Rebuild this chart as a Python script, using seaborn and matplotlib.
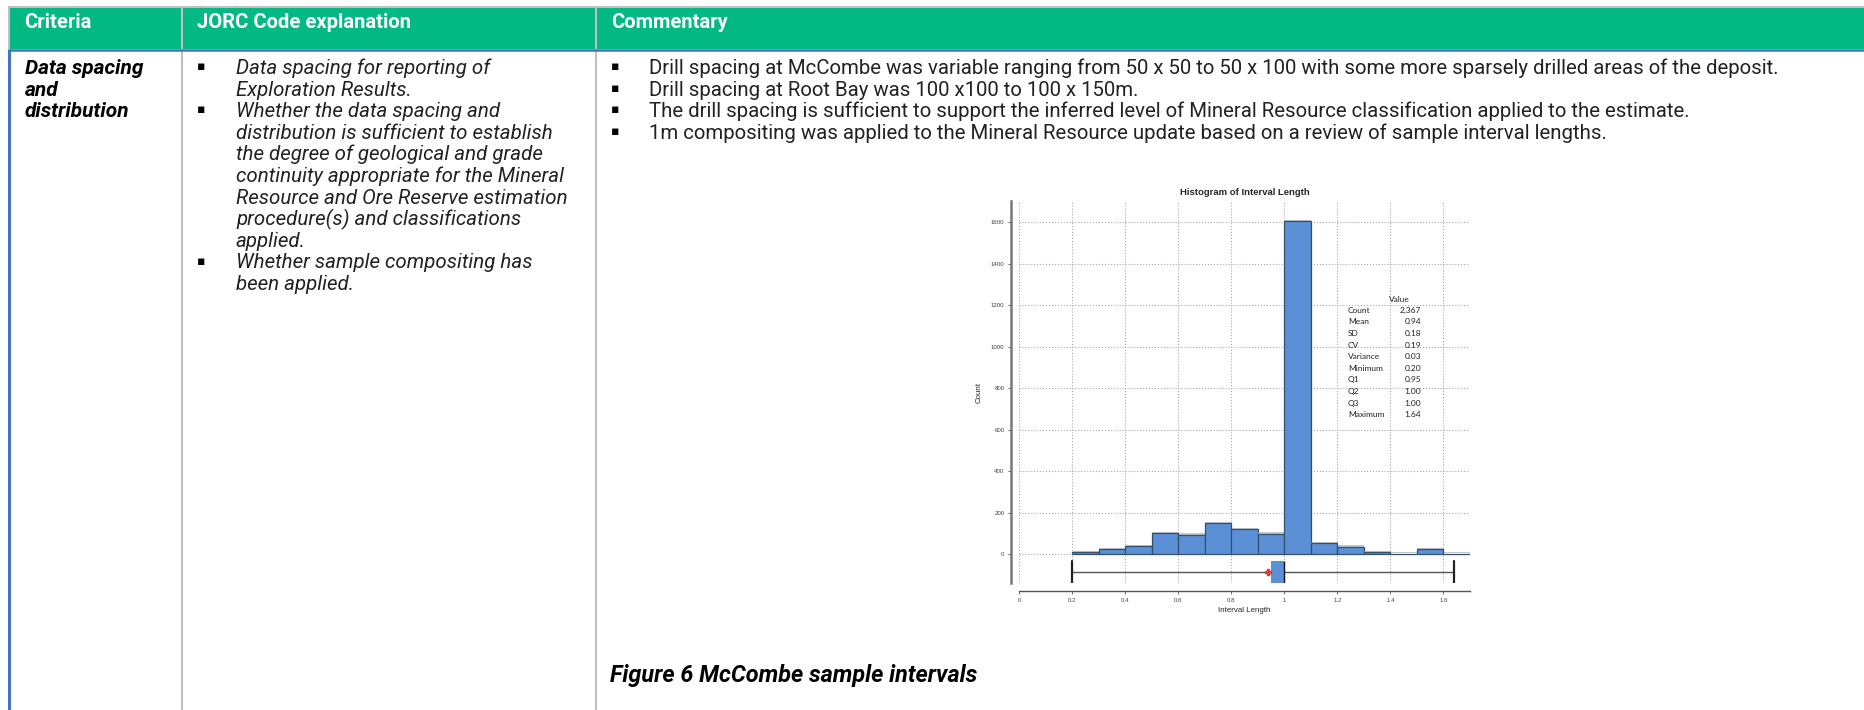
import numpy as np
import pandas as pd
import matplotlib
matplotlib.use('Agg')
import matplotlib.pyplot as plt
import matplotlib.patheffects as pe
from matplotlib.patches import Rectangle
from matplotlib.lines import Line2D
import seaborn as sns

# ---- chart data ----
interval_mid = [0.25, 0.35, 0.45, 0.55, 0.65, 0.75, 0.85, 0.95,
                1.05, 1.15, 1.25, 1.35, 1.45, 1.55, 1.65]
interval_count = [10, 24, 38, 101, 93, 149, 119, 98,
                  1605, 51, 35, 8, 2, 24, 2]
bin_edges = [0.2, 0.3, 0.4, 0.5, 0.6, 0.7, 0.8, 0.9,
             1.0, 1.1, 1.2, 1.3, 1.4, 1.5, 1.6, 1.7]

stat_names = ['Count', 'Mean', 'SD', 'CV', 'Variance', 'Minimum',
              'Q1', 'Q2', 'Q3', 'Maximum']
stat_values = ['2,367', '0.94', '0.18', '0.19', '0.03', '0.20',
               '0.95', '1.00', '1.00', '1.64']
box_min, box_q1, box_med, box_q3, box_max, box_mean = 0.20, 0.95, 1.00, 1.00, 1.64, 0.94

x_ticks = [0, 0.2, 0.4, 0.6, 0.8, 1.0, 1.2, 1.4, 1.6]
x_tick_labels = ['0', '0.2', '0.4', '0.6', '0.8', '1', '1.2', '1.4', '1.6']
y_ticks = [0, 200, 400, 600, 800, 1000, 1200, 1400, 1600]

# ---- table text ----
headers = ['Criteria', 'JORC Code explanation', 'Commentary']
criteria_lines = ['Data spacing', 'and', 'distribution']
jorc_bullets = [
    ['Data spacing for reporting of', 'Exploration Results.'],
    ['Whether the data spacing and', 'distribution is sufficient to establish',
     'the degree of geological and grade', 'continuity appropriate for the Mineral',
     'Resource and Ore Reserve estimation', 'procedure(s) and classifications',
     'applied.'],
    ['Whether sample compositing has', 'been applied.'],
]
commentary_bullets = [
    'Drill spacing at McCombe was variable ranging from 50 x 50 to 50 x 100 with some more sparsely drilled areas of the deposit.',
    'Drill spacing at Root Bay was 100 x100 to 100 x 150m.',
    'The drill spacing is sufficient to support the inferred level of Mineral Resource classification applied to the estimate.',
    '1m compositing was applied to the Mineral Resource update based on a review of sample interval lengths.',
]
caption = 'Figure 6 McCombe sample intervals'

W, H = 1865, 710
GREEN = '#02b883'
BLUE = '#4472c4'
GRID = '#c0c0c0'
BAR = '#5b8fd6'

sns.set_theme(style='white')
plt.rcParams['font.family'] = ['Roboto', 'DejaVu Sans']

fig = plt.figure(figsize=(W / 100, H / 100), dpi=100)
fig.patch.set_facecolor('white')


def fx(px):
    return px / W


def fy(py):
    return 1 - py / H


def hline(x0, x1, y, color, lw):
    fig.add_artist(Line2D([fx(x0), fx(x1)], [fy(y), fy(y)], transform=fig.transFigure,
                          color=color, lw=lw, solid_capstyle='butt'))


def vline(x, y0, y1, color, lw):
    fig.add_artist(Line2D([fx(x), fx(x)], [fy(y0), fy(y1)], transform=fig.transFigure,
                          color=color, lw=lw, solid_capstyle='butt'))


def put(x, yc, s, size, **kw):
    # yc is the visual middle of the line; convert to baseline
    base = yc + 0.36 * size * 100 / 72
    fig.text(fx(x), fy(base), s, fontsize=size, va='baseline', **kw)


# header band and borders
fig.add_artist(Rectangle((fx(10), fy(49)), (W - 10) / W, 42 / H, transform=fig.transFigure,
                         facecolor=GREEN, edgecolor='none'))
hline(9, W, 6.5, GRID, 1.5)
vline(9.5, 6, 49, GRID, 1.5)
vline(9.5, 49, H, BLUE, 2.2)
vline(182, 6, H, GRID, 1.5)
vline(596, 6, H, GRID, 1.5)
hline(9, W, 49.5, BLUE, 1.8)

head_size = 14.5
for x, t in zip([24, 197, 611], headers):
    put(x, 21, t, head_size, color='white', fontweight='bold')

body_size = 14.7
italic_size = 14.8
row0, step = 66.6, 21.6
for i, t in enumerate(criteria_lines):
    put(25, row0 + i * step, t, 15, color='black', fontweight='bold', style='italic')

k = 0
for lines in jorc_bullets:
    put(201, row0 + k * step - 1, '\u25aa', 9, color='black', ha='center', family='DejaVu Sans')
    for t in lines:
        put(236, row0 + k * step, t, italic_size, color='#222222', style='italic')
        k += 1

for i, t in enumerate(commentary_bullets):
    put(615, row0 + i * step - 1, '\u25aa', 9, color='black', ha='center', family='DejaVu Sans')
    put(649, row0 + i * step, t, body_size, color='#222222')

put(610, 674, caption, 16.8, color='black', fontweight='bold', style='italic')

# ---- histogram ----
ax = fig.add_axes([fx(1019), fy(583), 451 / W, 382 / H])
ax.set_facecolor('white')
sns.histplot(x=interval_mid, weights=interval_count, bins=bin_edges, ax=ax,
             color=BAR, alpha=1, edgecolor='#33506f', linewidth=0.9)
for p in ax.patches:
    p.set_path_effects([pe.SimplePatchShadow(offset=(0.4, 1.0), shadow_rgbFace='#9aa3ad', alpha=0.6),
                        pe.Normal()])

ax.bxp([{'whislo': box_min, 'q1': box_q1, 'med': box_med, 'q3': box_q3,
         'whishi': box_max, 'mean': box_mean, 'fliers': []}],
       positions=[-86], widths=108, capwidths=108, orientation='horizontal',
       showmeans=True, patch_artist=True, manage_ticks=False,
       boxprops=dict(facecolor=BAR, edgecolor='none'),
       medianprops=dict(color='#111111', lw=1.0),
       whiskerprops=dict(color='#555555', lw=1.0),
       capprops=dict(color='#222222', lw=1.6),
       meanprops=dict(marker='P', markerfacecolor='#e8383d', markeredgecolor='#e8383d',
                      markersize=4.5))

ax.set_xlim(0, 1.7)
ax.set_ylim(-140, 1703)
ax.set_xticks(x_ticks)
ax.set_xticklabels(x_tick_labels)
ax.set_yticks(y_ticks)
ax.set_axisbelow(True)
ax.grid(True, linestyle=':', color='#a8a8a8', lw=0.8)
sns.despine(ax=ax, offset=6)
ax.spines['left'].set_color('#777777')
ax.spines['left'].set_linewidth(1.8)
ax.spines['bottom'].set_color('#555555')
ax.spines['bottom'].set_linewidth(1.0)
ax.tick_params(axis='both', length=2.5, width=0.6, color='#555555', labelsize=4.4,
               labelcolor='#444444', pad=2, direction='out', bottom=True, left=True)
for lab in ax.get_xticklabels() + ax.get_yticklabels():
    lab.set_family('Liberation Sans')
ax.set_xlabel('Interval Length', fontsize=5.7, family='Liberation Sans', labelpad=3)
ax.set_ylabel('Count', fontsize=5.7, family='Liberation Sans', labelpad=6)
ax.set_title('Histogram of Interval Length', fontsize=6.8, fontweight='bold',
             family='Liberation Sans', pad=4)

# statistics box inside the plot
fig.text(fx(1389), fy(299), 'Value', fontsize=6, family='Lato', va='center', color='#222222')
for i, (n, v) in enumerate(zip(stat_names, stat_values)):
    yy = 310.3 + i * 11.6
    fig.text(fx(1348), fy(yy), n, fontsize=6, family='Lato', va='center', color='#222222')
    fig.text(fx(1421), fy(yy), v, fontsize=6, family='Lato', va='center', ha='right',
             color='#222222')

fig.savefig('out.png', dpi=100)
